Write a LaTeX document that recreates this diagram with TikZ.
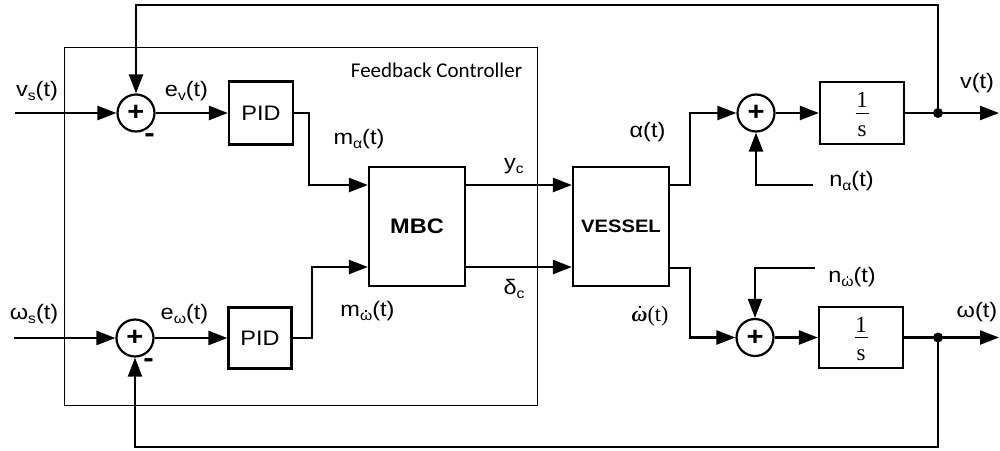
\documentclass[tikz,border=0pt]{standalone}
\usepackage{fontspec}
\setmainfont{Liberation Sans}[FakeStretch=1.12]
\newfontfamily\fcfont{Carlito}
\newfontfamily\seriffont{Liberation Serif}
\usetikzlibrary{arrows.meta}
\newcommand\sbs[1]{\raisebox{-0.22em}{\fontsize{14}{14}\selectfont #1}}
\newcommand\wdotsf{\leavevmode\ooalign{ω\cr\hidewidth\raisebox{0.66em}{\rule{1.7pt}{1.7pt}}\hidewidth\cr}}
\newcommand\wdotit{\leavevmode\ooalign{\itshape\bfseries ω\cr\hidewidth\raisebox{0.6em}{\rule{2.4pt}{2.4pt}}\hidewidth\kern-0.05em\cr}}
\tikzset{
  blk/.style={draw, line width=2.2pt, inner sep=0pt},
  sumnode/.style={draw, circle, line width=2.2pt, minimum size=37pt, inner sep=0pt, font=\bfseries\fontsize{26}{26}\selectfont},
  sig/.style={line width=2.3pt, -{Triangle[length=19pt,width=14pt]}},
  wire/.style={line width=2.3pt},
  jdot/.style={circle, fill, minimum size=10pt, inner sep=0pt},
  lbl/.style={inner sep=0pt},
  frac/.style={inner sep=0pt, font=\seriffont\fontsize{23}{25}\selectfont},
}
\begin{document}
\begin{tikzpicture}[x=1pt,y=-1pt,font=\fontsize{21}{25}\selectfont]
\useasboundingbox (0,0) rectangle (1000,450);
% feedback controller frame
\node[draw, line width=1pt, minimum width=473pt, minimum height=358pt, inner sep=0pt] (fc) at (300.5,226) {};
\node[lbl, font=\fcfont\fontsize{21}{25}\selectfont] (fclbl) at (436.5,70) {Feedback Controller};
% blocks
\node[sumnode] (sum1) at (136,113) {+};
\node[sumnode] (sum2) at (135,338) {+};
\node[blk, minimum width=64pt, minimum height=63pt] (pid1) at (261,113) {PID};
\node[blk, minimum width=63pt, minimum height=61pt] (pid2) at (260,338) {PID};
\node[blk, minimum width=96pt, minimum height=119pt, font=\bfseries\fontsize{21}{25}\selectfont] (mbc) at (417,226.5) {MBC};
\node[blk, minimum width=96pt, minimum height=119pt, font=\bfseries\fontsize{18}{22}\selectfont] (vessel) at (621,226.5) {VESSEL};
\node[sumnode] (sum3) at (756,113) {+};
\node[sumnode] (sum4) at (755,337.5) {+};
\node[blk, minimum width=84pt, minimum height=62pt] (int1) at (862,113) {};
\node[blk, minimum width=84pt, minimum height=61pt] (int2) at (861,337.5) {};
\node[jdot] (dot1) at (938,113) {};
\node[jdot] (dot2) at (938,337.5) {};
% fractions 1/s
\node[frac] (one1) at ([yshift=13pt]int1.center) {1};
\node[frac] (s1) at ([yshift=-18pt]int1.center) {s};
\draw[line width=0.9pt] ([xshift=-6.5pt]int1.center) -- ([xshift=6.5pt]int1.center);
\node[frac] (one2) at ([yshift=13pt]int2.center) {1};
\node[frac] (s2) at ([yshift=-18pt]int2.center) {s};
\draw[line width=0.9pt] ([xshift=-6.5pt]int2.center) -- ([xshift=6.5pt]int2.center);
% free ends
\coordinate (vsin) at (15,113);
\coordinate (wsin) at (14,338);
\coordinate (vout) at (999,113);
\coordinate (wout) at (999,337.5);
\coordinate (na) at (813,185);
\coordinate (nw) at (815,268);
% connectors
\draw[sig] (vsin) -- (sum1.west);
\draw[sig] (wsin) -- (sum2.west);
\draw[sig] (sum1.east) -- (pid1.west);
\draw[sig] (sum2.east) -- (pid2.west);
\draw[sig] (pid1.east) -- (309,113) |- ([yshift=41.5pt]mbc.west);
\draw[sig] (pid2.east) -- (312,338) |- ([yshift=-40.5pt]mbc.west);
\draw[sig] ([yshift=41.5pt]mbc.east) -- ([yshift=41.5pt]vessel.west);
\draw[sig] ([yshift=-40.5pt]mbc.east) -- ([yshift=-40.5pt]vessel.west);
\draw[sig] ([yshift=41.5pt]vessel.east) -- (690,185) |- (sum3.west);
\draw[sig] ([yshift=-41.5pt]vessel.east) -- (690,268) |- (sum4.west);
\draw[sig] (na) -| (sum3.south);
\draw[sig] (nw) -| (sum4.north);
\draw[sig] (sum3.east) -- (int1.west);
\draw[sig] (sum4.east) -- (int2.west);
\draw[wire] (int1.east) -- (dot1.center);
\draw[wire] (int2.east) -- (dot2.center);
\draw[sig] (dot1.center) -- (vout);
\draw[sig] (dot2.center) -- (wout);
\draw[sig] (dot1.center) -- (938,5) -| (sum1.north);
\draw[sig] (dot2.center) -- (938,447) -| (sum2.south);
% labels
\node[lbl] (lvs) at (37,91) {v\sbs{s}(t)};
\node[lbl] (lev) at (186.5,91) {e\sbs{v}(t)};
\node[lbl, font=\bfseries\fontsize{28}{28}\selectfont] (mn1) at (149.5,138) {-};
\node[lbl] (lma) at (359,139) {m\sbs{α}(t)};
\node[lbl] (lyc) at (514,166) {y\sbs{c}};
\node[lbl] (ldc) at (514,289) {δ\sbs{c}};
\node[lbl] (lmw) at (367.5,311) {m\sbs{\wdotsf}(t)};
\node[lbl, font=\seriffont\fontsize{22}{25}\selectfont] (lwd) at (650,316) {\wdotit(t)};
\node[lbl] (lal) at (647.5,132) {α(t)};
\node[lbl] (lna) at (851.5,181) {n\sbs{α}(t)};
\node[lbl] (lv) at (977,83) {v(t)};
\node[lbl] (lnw) at (852,277) {n\sbs{\wdotsf}(t)};
\node[lbl] (lw) at (977,312) {ω(t)};
\node[lbl] (lws) at (34,314) {ω\sbs{s}(t)};
\node[lbl] (lew) at (184.5,314) {e\sbs{ω}(t)};
\node[lbl, font=\bfseries\fontsize{28}{28}\selectfont] (mn2) at (148.5,363) {-};
\end{tikzpicture}
\end{document}
